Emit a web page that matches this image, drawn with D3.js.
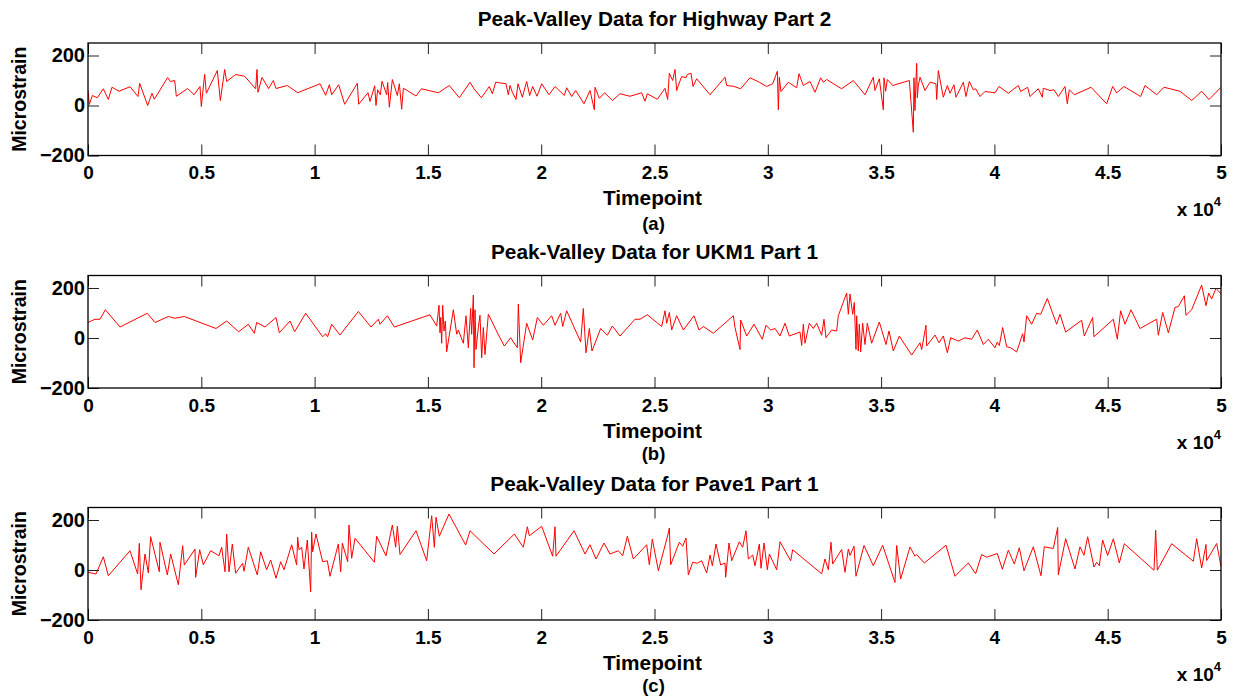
<!DOCTYPE html>
<html>
<head>
<meta charset="utf-8">
<script src="https://cdn.jsdelivr.net/npm/d3@7"></script>
<style>
  html, body { margin: 0; padding: 0; background: #fff; }
  svg { display: block; }
  text { font-family: "Liberation Sans", Arial, Helvetica, sans-serif; font-weight: bold; fill: #000; }
</style>
</head>
<body>
<svg id="chart" width="1234" height="700"></svg>
<script>
// ---------------- DATA ----------------
const titles = ["Peak-Valley Data for Highway Part 2", "Peak-Valley Data for UKM1 Part 1", "Peak-Valley Data for Pave1 Part 1"];
const captions = ["(a)", "(b)", "(c)"];
const xTicks = [0, 5000, 10000, 15000, 20000, 25000, 30000, 35000, 40000, 45000, 50000];
const yTicks = [-200, 0, 200];
const xDomain = [0, 50000];
const yDomain = [-200, 250];

const highwayTime = [0,59,191,412,677,897,1059,1368,1853,2207,2280,2633,2824,2927,3516,3633,3825,3898,4398,4678,4942,5001,5148,5222,5707,5840,6031,6119,6516,6914,7399,7458,7502,7679,7973,8179,8297,8797,9253,10238,10488,10650,10753,11062,11327,11886,11945,12357,12445,12651,12710,12784,12901,12975,13181,13225,13298,13431,13651,13740,13843,13916,14034,14475,14711,15461,15946,16387,16858,17035,17359,17711,17844,17991,18447,18550,18623,18726,18888,18976,19167,19359,19491,19624,19815,20021,20345,20610,21021,21124,21345,21521,21889,22154,22345,22374,22566,22801,23139,23478,23919,24434,24581,24684,25125,25464,25581,25655,25802,25905,25979,26052,26199,26390,26449,26611,26700,26861,27450,28112,28185,28480,28803,29215,29627,29950,30215,30421,30465,30509,30583,30906,31274,31377,31568,31863,32083,32333,32450,32597,33259,33774,34289,34657,34730,34921,35098,35128,35201,35275,35510,36246,36422,36451,36496,36540,36570,36599,36643,36716,36937,37158,37422,37452,37525,37746,37923,38040,38217,38305,38629,38746,38893,39069,39172,39364,39584,40026,40202,40614,41056,41159,41468,41571,41939,42115,42159,42453,42630,42821,43115,43218,43306,43527,44263,44954,45219,45396,45719,46455,46646,47161,47485,48190,48706,49147,49470,50000];
const highwayStrain = [60,4,40,31,67,24,73,57,75,36,89,0,49,25,112,96,100,37,68,43,76,-4,125,49,140,20,144,96,124,117,67,144,53,112,68,100,68,80,51,87,41,83,43,83,5,89,5,51,16,79,0,63,43,97,43,92,-7,104,40,87,-15,69,63,38,67,51,80,31,93,67,31,76,47,93,87,43,80,53,24,87,33,96,40,76,37,87,43,76,40,71,36,60,7,60,-17,73,29,51,20,47,37,51,17,47,25,69,24,129,100,144,60,80,116,111,124,129,76,107,43,113,80,77,67,111,93,76,87,137,-17,113,56,93,71,127,80,96,53,111,93,104,67,100,43,113,60,107,-17,111,57,104,80,100,-107,111,-20,100,169,31,80,113,60,93,87,24,140,33,80,49,83,33,93,36,96,63,67,36,56,51,76,49,80,56,73,36,67,33,69,60,63,36,76,7,63,43,73,7,76,51,76,36,80,43,73,57,20,57,24,73];

const ukm1Time = [0,309,530,765,1412,2618,2957,3545,3839,4251,5649,6119,6649,7075,7340,7443,7811,8297,8444,8914,9120,9606,10356,10488,10576,10753,11121,11930,12489,12813,12886,13210,13519,15093,15387,15490,15534,15564,15608,15652,15711,15770,15828,16123,16270,16343,16564,16681,16784,16887,16931,17005,17035,17079,17122,17226,17299,17373,17447,17520,17667,18138,18373,18653,18947,18991,19094,19359,19624,19830,20094,20462,20610,20859,20947,21124,21742,21859,21977,22124,22242,22624,22918,23139,23478,24140,24360,24684,25317,25464,25538,25655,25758,25979,26273,26743,26964,27156,27597,28480,28553,28774,28803,29068,29392,29759,29921,30127,30318,30539,30759,30950,31421,31495,31568,31642,31833,32009,32156,32377,32480,32568,32818,33039,33112,33480,33554,33627,33745,33818,33892,33921,33995,34039,34098,34186,34289,34392,34583,34921,35216,35348,35539,35804,36348,36716,36790,36981,37010,37378,37555,37746,37923,38070,38408,38702,38996,39246,39511,39732,40026,40129,40217,40364,40541,40717,40982,41247,41306,41424,41644,41865,42041,42336,42747,42894,43144,43850,43968,44336,44395,45248,45424,45571,45763,46027,46425,47161,47234,47426,47676,47970,48117,48382,48455,48706,49147,49338,49456,49588,49779,49838,50000];
const ukm1Strain = [62,75,75,113,44,99,62,86,79,86,38,68,25,55,19,62,44,82,21,68,25,99,5,17,5,55,12,106,44,75,55,89,44,93,48,131,21,82,-21,131,28,68,-55,113,15,32,-21,89,-39,118,15,172,-119,113,-46,42,91,-79,42,-66,95,8,-32,1,-39,136,-99,59,-8,82,51,89,51,99,46,109,-16,118,-59,38,-52,38,11,48,8,75,75,93,46,109,59,102,32,89,32,89,32,46,19,89,42,-46,72,8,55,-5,51,32,38,8,59,8,24,-30,55,-21,59,38,59,11,75,1,32,28,89,180,95,176,95,142,-46,89,-52,55,-56,59,-26,59,-21,64,-26,28,-52,8,-68,-19,-46,51,-32,12,-19,8,-59,1,-12,1,-5,32,-26,-5,-39,-16,-30,42,-35,-39,-56,17,-16,89,55,99,95,158,55,95,24,71,8,82,5,75,-5,109,55,113,38,75,11,102,21,122,126,169,91,113,212,129,180,156,199,193,176];

const pave1Time = [0,353,677,897,1853,2192,2265,2339,2515,2663,2765,3148,3177,3501,3648,3986,4177,4251,4722,4751,4928,5089,5413,5781,5899,6046,6119,6222,6369,6516,6825,6884,7075,7472,7620,7884,8061,8297,8503,8650,8988,9208,9253,9311,9429,9532,9679,9826,9870,9914,10061,10356,10562,10679,11047,11150,11224,11459,11518,11636,11783,12636,12739,13151,13431,13578,13651,13769,14475,14946,15167,15284,15358,15505,15931,16667,16858,17917,18815,19211,19389,19477,20021,20506,20610,20653,21448,21933,22154,22418,22771,23036,23404,23595,23801,24066,24654,24772,24904,25170,25611,25655,25714,26096,26243,26390,26493,26684,26890,27082,27303,27450,27553,27714,27920,28112,28141,28288,28406,28744,28891,29038,29142,29333,29436,29627,29701,29833,29980,30068,30392,30539,31009,31097,32377,32524,32671,32789,32862,33259,33406,33554,33627,33804,33892,34245,34657,35069,35613,35686,35863,36275,36496,36570,36908,37864,38261,38849,39172,39437,39658,40129,40350,40614,40879,41100,41306,41718,42056,42203,42600,42791,42821,43145,43556,43777,43953,44115,44395,44513,44630,44777,44998,45248,45513,45734,47043,47117,47190,47823,48779,48926,49147,49338,49368,49809,50000];
const pave1Strain = [-9,-16,53,-23,77,-16,107,-79,64,-12,133,-7,111,-20,64,-59,97,20,84,-29,81,21,77,57,91,-7,144,-7,104,-13,27,-5,91,-20,73,1,40,-33,33,1,101,20,131,81,91,4,120,-87,151,73,144,33,37,-25,104,-7,107,33,180,47,127,31,135,57,180,91,175,62,157,37,217,91,211,135,224,100,157,64,144,91,173,137,175,55,173,55,157,64,101,44,108,64,77,57,135,44,101,21,124,-3,148,168,21,111,95,128,-20,31,27,37,-12,60,17,104,20,28,-29,108,37,113,91,157,44,60,17,104,7,108,1,64,1,113,37,81,-15,44,1,111,24,82,-9,84,58,95,-25,98,17,99,-50,98,-36,92,55,62,28,99,-25,28,-15,62,51,66,3,79,24,89,-3,93,-23,93,86,170,-19,125,4,93,59,133,12,31,17,120,58,125,28,105,-1,159,-1,105,35,125,8,102,38,106,15];

const seriesTime = [highwayTime, ukm1Time, pave1Time];
const seriesStrain = [highwayStrain, ukm1Strain, pave1Strain];

// ---------------- LAYOUT ----------------
const plotLeft = 88, plotRight = 1221;
const panelTops = [43, 275.5, 507.5];
const panelH = 112.5;
const tickLen = 11;

const svg = d3.select("#chart");
const x = d3.scaleLinear().domain(xDomain).range([plotLeft, plotRight]);

panelTops.forEach((top, i) => {
  const bottom = top + panelH;
  const y = d3.scaleLinear().domain(yDomain).range([bottom, top]);
  const g = svg.append("g");

  // data line
  const pts = seriesTime[i].map((t, k) => [t, seriesStrain[i][k]]);
  const clipId = "clip" + i;
  svg.append("clipPath").attr("id", clipId).append("rect")
    .attr("x", plotLeft).attr("y", top).attr("width", plotRight - plotLeft).attr("height", panelH);
  g.append("path")
    .datum(pts)
    .attr("clip-path", `url(#${clipId})`)
    .attr("fill", "none")
    .attr("stroke", "#ff0000")
    .attr("stroke-width", 1)
    .attr("stroke-linejoin", "miter")
    .attr("d", d3.line().x(d => x(d[0])).y(d => y(d[1])));

  // axes (ticks inward)
  const axB = g.append("g").attr("transform", `translate(0,${bottom})`)
    .call(d3.axisBottom(x).tickValues(xTicks).tickSize(-tickLen).tickPadding(10.5)
      .tickFormat(d => d3.format("~g")(d / 1e4)));
  const axT = g.append("g").attr("transform", `translate(0,${top})`)
    .call(d3.axisTop(x).tickValues(xTicks).tickSize(-tickLen).tickFormat(""));
  const axL = g.append("g").attr("transform", `translate(${plotLeft},0)`)
    .call(d3.axisLeft(y).tickValues(yTicks).tickSize(-tickLen).tickPadding(3).tickFormat(d3.format("d")));
  const axR = g.append("g").attr("transform", `translate(${plotRight},0)`)
    .call(d3.axisRight(y).tickValues(yTicks).tickSize(-tickLen).tickFormat(""));

  [axB, axT, axL, axR].forEach(a => {
    a.select(".domain").remove();
    a.selectAll(".tick line").attr("stroke", "#222").attr("stroke-width", 1);
    a.selectAll(".tick text")
      .attr("font-family", '"Liberation Sans", Arial, sans-serif')
      .attr("font-weight", "bold").attr("font-size", 19).attr("fill", "#000");
  });
  axL.selectAll(".tick text").attr("font-size", 20);

  // box
  g.append("rect")
    .attr("x", plotLeft).attr("y", top)
    .attr("width", plotRight - plotLeft).attr("height", panelH)
    .attr("fill", "none").attr("stroke", "#000").attr("stroke-width", 1.3);

  // title
  g.append("text")
    .attr("x", (plotLeft + plotRight) / 2).attr("y", top - 17)
    .attr("text-anchor", "middle").attr("font-size", 20.8)
    .text(titles[i]);

  // x label
  g.append("text")
    .attr("x", (plotLeft + plotRight) / 2 - 2).attr("y", bottom + 49.5)
    .attr("text-anchor", "middle").attr("font-size", 20.8)
    .text("Timepoint");

  // caption
  g.append("text")
    .attr("x", (plotLeft + plotRight) / 2 - 1).attr("y", bottom + (i === 0 ? 74 : 71.5))
    .attr("text-anchor", "middle").attr("font-size", 18.5)
    .text(captions[i]);

  // y label
  g.append("text")
    .attr("transform", `translate(26,${(top + bottom) / 2}) rotate(-90)`)
    .attr("text-anchor", "middle").attr("font-size", 19.5)
    .text("Microstrain");

  // exponent label
  const ex = g.append("text")
    .attr("x", plotRight).attr("y", bottom + 60.5)
    .attr("text-anchor", "end").attr("font-size", 19);
  ex.append("tspan").text("x 10");
  ex.append("tspan").attr("font-size", 13).attr("dy", -10).text("4");
});
</script>
</body>
</html>
